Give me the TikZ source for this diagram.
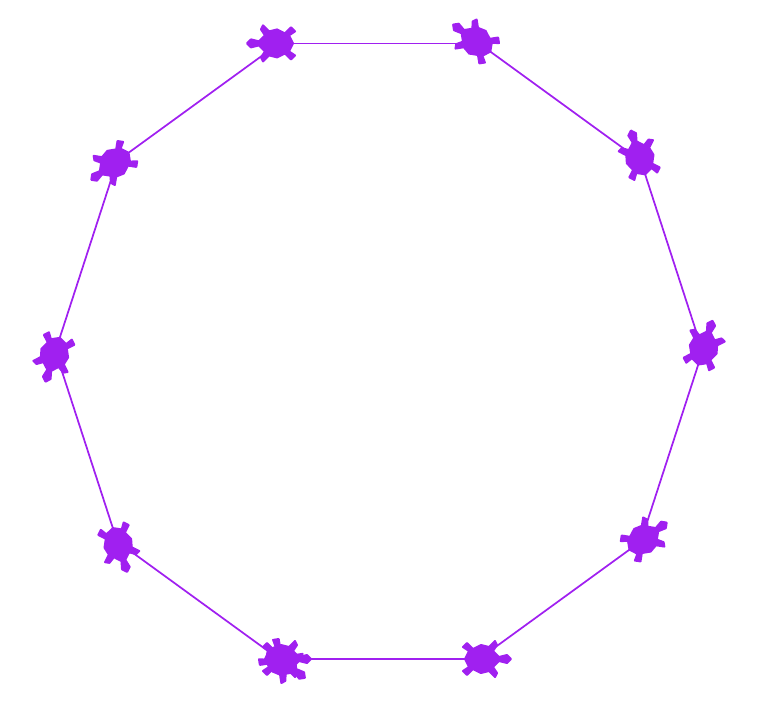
\documentclass[tikz,border=0pt]{standalone}
\usepackage{xcolor}
\definecolor{turtlepurple}{rgb}{0.627,0.125,0.941}
\tikzset{
  edge/.style={draw=turtlepurple,line width=1.3pt},
  turtle/.pic={
    \filldraw [turtlepurple,line width=1.5pt,line join=round,scale=2] (16,0) -- (14,-2) -- (10,-1) -- (7,-4) -- (9,-7) -- (8,-9) -- (5,-6) -- (1,-7) -- (-3,-5) -- (-6,-8) -- (-8,-6) -- (-5,-4) -- (-7,0) -- (-5,4) -- (-8,6) -- (-6,8) -- (-3,5) -- (1,7) -- (5,6) -- (8,9) -- (9,7) -- (7,4) -- (10,1) -- (14,2) -- cycle ;
  }
}
\begin{document}
\begin{tikzpicture}[x=0.75pt,y=0.75pt,yscale=-1,xscale=1]
\useasboundingbox (0,0) rectangle (762,722);

% Corners
\coordinate (corner1) at (279,659);
\coordinate (corner2) at (479,659);
\coordinate (corner3) at (640.8,541.4);
\coordinate (corner4) at (702.6,351.2);
\coordinate (corner5) at (640.8,161);
\coordinate (corner6) at (479,43.4);
\coordinate (corner7) at (279,43.4);
\coordinate (corner8) at (117.2,161);
\coordinate (corner9) at (55.4,351.2);
\coordinate (corner10) at (117.2,541.4);

% Sides
\draw [edge] (corner1) -- (corner2) ;
\draw [edge] (corner2) -- (corner3) ;
\draw [edge] (corner3) -- (corner4) ;
\draw [edge] (corner4) -- (corner5) ;
\draw [edge] (corner5) -- (corner6) ;
\draw [edge] (corner6) -- (corner7) ;
\draw [edge] (corner7) -- (corner8) ;
\draw [edge] (corner8) -- (corner9) ;
\draw [edge] (corner9) -- (corner10) ;
\draw [edge] (corner10) -- (corner1) ;

% Turtles
\pic [rotate=0] at (corner1) {turtle};
\pic [rotate=0] at (corner2) {turtle};
\pic [rotate=36] at (corner3) {turtle};
\pic [rotate=72] at (corner4) {turtle};
\pic [rotate=108] at (corner5) {turtle};
\pic [rotate=144] at (corner6) {turtle};
\pic [rotate=180] at (corner7) {turtle};
\pic [rotate=216] at (corner8) {turtle};
\pic [rotate=252] at (corner9) {turtle};
\pic [rotate=288] at (corner10) {turtle};
\pic [rotate=324] at (corner1) {turtle};

\end{tikzpicture}
\end{document}
